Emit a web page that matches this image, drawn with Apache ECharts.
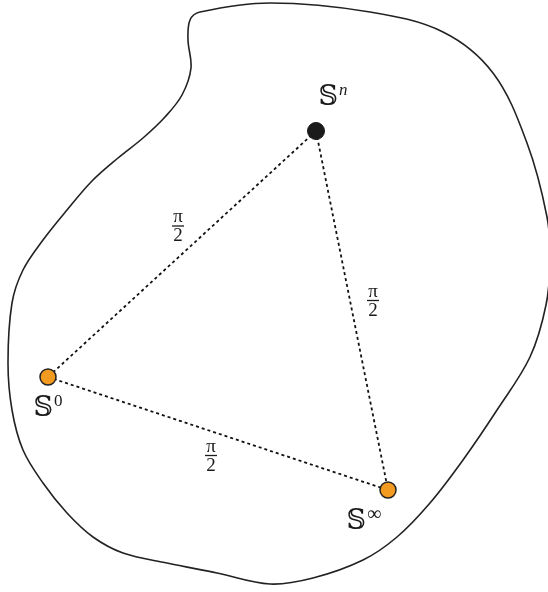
<!DOCTYPE html>
<html><head><meta charset="utf-8">
<script src="https://cdn.jsdelivr.net/npm/echarts@6/dist/echarts.min.js"></script>
<style>html,body{margin:0;padding:0;background:#fff}#c{width:548px;height:592px}</style>
</head><body><div id="c"></div>
<script>
// Blob outline (x, y in picture units)
const blobX = [200,270,370,443,493,527,547,550,546,530,497,463,430,397,363,313,270,217,167,123,93,67,43,23,12,8,12,23,43,67,92,118,143,165,182,191,188,190];
const blobY = [12,3,12,32,73,143,217,260,305,357,410,460,503,537,560,578,584,573,563,553,537,513,483,450,410,363,303,270,240,210,181,158,138,117,95,68,40,20];
// Nodes
const nodeNames = ['Sn','S0','Sinf'];
const nodeX = [316, 48, 388];
const nodeY = [131, 377, 490];
const nodeKind = ['dark','orange','orange'];
// Edges (pairs of node indices) and labels
const edgeFrom = [0, 0, 1];
const edgeTo = [1, 2, 2];
const edgeLabel = ['π/2','π/2','π/2'];

const chart = echarts.init(document.getElementById('c'));
const blob = blobX.map((x,i)=>[x, blobY[i]]);
const labelOff = [[17,-34],[0,31],[-24,30]];
const nodeLabel = [
  '{s|𝕊}{supi|n}',
  '{s|𝕊}{sup|0}',
  '{s|𝕊}{supb|∞}'
];
const edgeOff = [[-4,-26],[21,-8],[-7,24]];

const series = [];
series.push({type:'custom', silent:true, z:1, data:[0],
  renderItem:(params, api)=>({
    type:'polygon',
    shape:{points: blob.map(p=>api.coord(p)), smooth:0.35},
    style:{fill:'none', stroke:'#222', lineWidth:1.6}
  })
});
edgeFrom.forEach((a,i)=>{
  const b = edgeTo[i];
  series.push({type:'line', symbol:'none', silent:true, z:2,
    data:[[nodeX[a],nodeY[a]],[nodeX[b],nodeY[b]]],
    lineStyle:{color:'#111', width:1.8, type:[3,3]}});
});
const fracRich = {
  n:{fontFamily:'Liberation Serif, DejaVu Serif, serif', fontSize:19, color:'#1a1a1a', lineHeight:12, align:'center'},
  bar:{width:12, height:1.3, lineHeight:5, backgroundColor:'#1a1a1a', align:'center'},
  d:{fontFamily:'Liberation Serif, DejaVu Serif, serif', fontSize:19, color:'#1a1a1a', lineHeight:16, align:'center'}
};
series.push({type:'scatter', symbolSize:0, silent:true, z:3, itemStyle:{opacity:1},
  data: edgeFrom.map((a,i)=>{
    const b = edgeTo[i];
    return {value:[(nodeX[a]+nodeX[b])/2 + edgeOff[i][0], (nodeY[a]+nodeY[b])/2 + edgeOff[i][1]],
      parts: edgeLabel[i].split('/')};
  }),
  label:{show:true, position:'inside', opacity:1, formatter:p=>'{n|'+p.data.parts[0]+'}\n{bar| }\n{d|'+p.data.parts[1]+'}', rich:fracRich}
});
series.push({type:'scatter', silent:true, z:4,
  data: nodeX.map((x,i)=>({value:[x,nodeY[i]], symbolSize: nodeKind[i]==='dark'?17:16,
    itemStyle: nodeKind[i]==='dark' ? {color:'#1a1a1a', borderColor:'#1a1a1a', borderWidth:1, opacity:1} : {color:'#F39A21', borderColor:'#222', borderWidth:1.5, opacity:1}})),
  label:{show:false}
});
series.push({type:'scatter', symbolSize:0, silent:true, z:5, itemStyle:{opacity:1},
  data: nodeX.map((x,i)=>({value:[x+labelOff[i][0], nodeY[i]+labelOff[i][1]], idx:i})),
  label:{show:true, position:'inside', opacity:1, formatter:p=>nodeLabel[p.data.idx],
    rich:{
      s:{fontFamily:'DejaVu Serif, DejaVu Sans, Noto Sans, serif', fontSize:27, color:'#1a1a1a', verticalAlign:'bottom'},
      supi:{fontFamily:'Liberation Serif, DejaVu Serif, serif', fontStyle:'italic', fontSize:17, color:'#1a1a1a', verticalAlign:'top', padding:[0,0,12,1]},
      sup:{fontFamily:'Liberation Serif, DejaVu Serif, serif', fontSize:17, color:'#1a1a1a', verticalAlign:'top', padding:[0,0,12,1]},
      supb:{fontFamily:'Liberation Serif, DejaVu Serif, serif', fontSize:20, color:'#1a1a1a', verticalAlign:'top', padding:[0,0,10,1]}
    }}
});

chart.setOption({
  animation:false,
  backgroundColor:'#fff',
  grid:{left:0,right:0,top:0,bottom:0},
  xAxis:{type:'value', min:0, max:548, show:false},
  yAxis:{type:'value', min:0, max:592, inverse:true, show:false},
  series
});
</script></body></html>
